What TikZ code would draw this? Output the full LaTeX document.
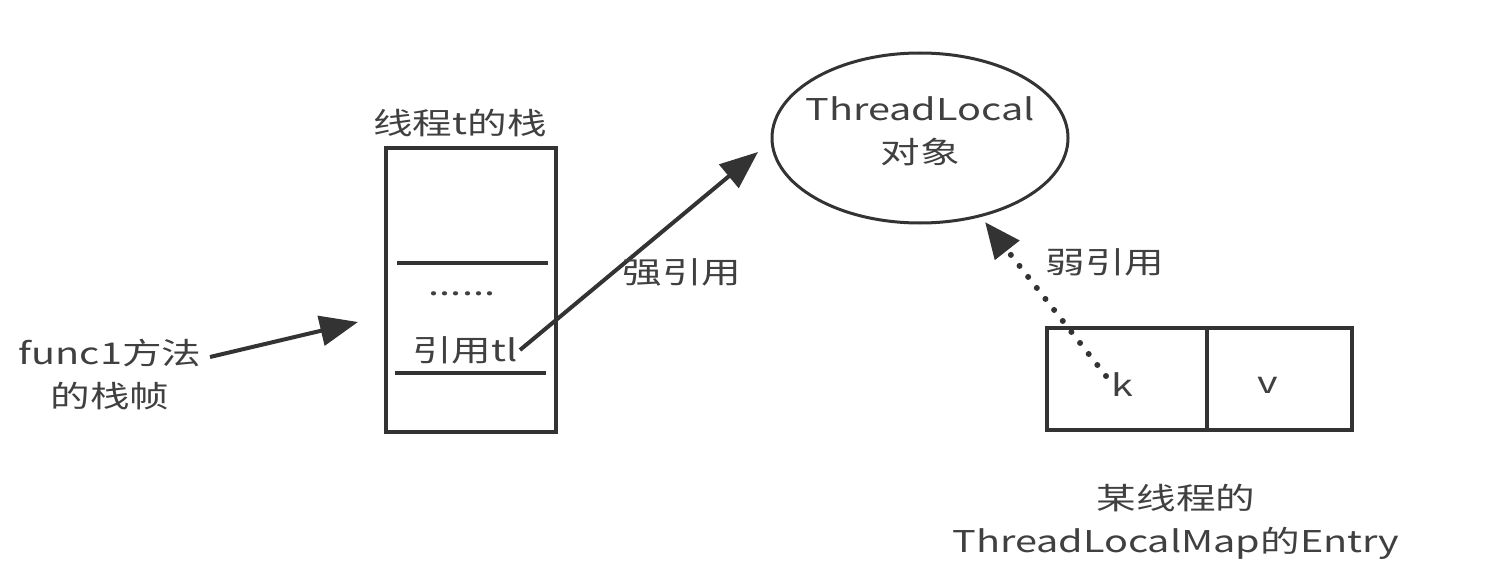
\documentclass[tikz,border=0pt]{standalone}
\usepackage{fontspec}
\setmainfont{Noto Sans CJK SC}[FakeStretch=1.32]
\usetikzlibrary{arrows.meta,shapes.geometric}
\definecolor{ink}{HTML}{333333}
\definecolor{txt}{HTML}{404040}
\begin{document}
\begin{tikzpicture}[x=1pt,y=-1pt,
  lbl/.style={text=txt,font=\fontsize{30}{43}\selectfont,inner sep=0pt,align=center},
  frame/.style={draw=ink,line width=3.5pt},
  arr/.style={draw=ink,line width=4pt,-{Triangle[length=38pt,width=30pt]}},
  weak/.style={draw=ink,line width=6pt,line cap=round,dash pattern=on 0pt off 14pt,-{Triangle[length=36pt,width=30pt,line cap=butt]}},
]
\useasboundingbox (0,0) rectangle (1495,575);
% stack
\node[frame,minimum width=170pt,minimum height=284pt,inner sep=0pt] (stack) at (471,290) {};
\node[lbl] (stacklbl) at (460,123) {线程t的栈};
\coordinate (l1a) at (397,263); \coordinate (l1b) at (548,263);
\coordinate (l2a) at (395,373); \coordinate (l2b) at (546,373);
\draw[ink,line width=3.5pt] (l1a) -- (l1b);
\draw[ink,line width=3.5pt] (l2a) -- (l2b);
\node[lbl] (dots) at (462,294) {......};
\node[lbl] (ref) at (465,350) {引用tl};
% func1
\node[lbl,align=center] (func) at (110,375) {func1方法\\的栈帧};
\coordinate (fs) at (210,357);
\coordinate (fe) at (358,322);
\draw[arr] (fs) -- (fe);
% ellipse
\node[draw=ink,line width=3pt,ellipse,minimum width=296pt,minimum height=170pt,inner sep=0pt] (tl) at (920,138) {};
\node[lbl] (tltxt) at (920,131) {ThreadLocal\\对象};
% strong ref
\coordinate (ss) at (520,350);
\coordinate (se) at (758,152);
\draw[arr] (ss) -- (se);
\node[lbl] (strong) at (682,272) {强引用};
% entry
\node[frame,minimum width=305pt,minimum height=102pt,inner sep=0pt] (entry) at (1199.5,379) {};
\coordinate (da) at (1207,328); \coordinate (db) at (1207,430);
\draw[ink,line width=3.5pt] (da) -- (db);
\node[lbl] (k) at (1122,385) {k};
\node[lbl] (v) at (1268,385) {v};
% weak ref
\coordinate (ws) at (1106,376);
\coordinate (we) at (985,222);
\draw[weak] (ws) -- (we);
\node[lbl] (weaklbl) at (1105,262) {弱引用};
% caption
\node[lbl] (cap) at (1176,522) {某线程的\\ThreadLocalMap的Entry};
\end{tikzpicture}
\end{document}
